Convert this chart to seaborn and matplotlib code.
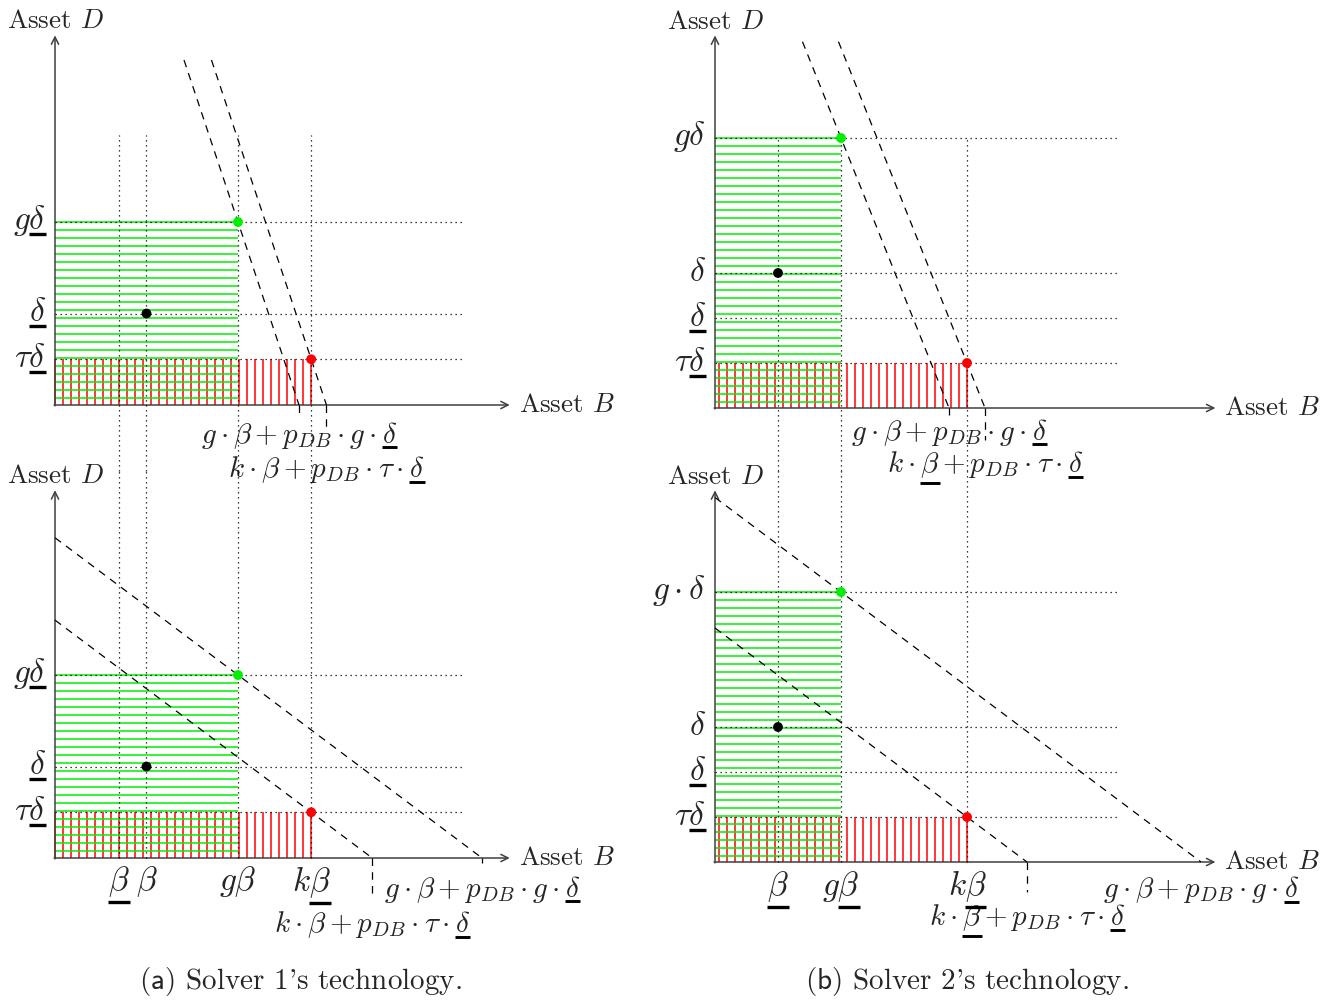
import numpy as np
import matplotlib
matplotlib.use("Agg")
import matplotlib.pyplot as plt
import seaborn as sns
from matplotlib.lines import Line2D

sns.set_theme(style="white")
plt.rcParams["mathtext.fontset"] = "cm"

W, H = 1335, 1001
GREEN = "#00f000"
RED = "#ff0000"

# label parts: (tex, underlined)
D_ = (r"\delta", True)
B_ = (r"\beta", True)

# ---- Solver 1 (a) ----
A_X = [0.7, 1.0, 2.0, 2.8]                      # beta_, beta, g beta, k beta_
A_XLABELS = [[B_], [(r"\beta", False)], [("g", False), (r"\beta", False)],
             [("k", False), B_]]
A_Y = [2.0, 1.0, 0.5]                           # g delta_, delta_, tau delta_
A_YLABELS = [[("g", False), D_], [D_], [(r"\tau", False), D_]]
A_GREEN_PT = [2.0, 2.0]
A_RED_PT = [2.8, 0.5]
A_BLACK_PT = [1.0, 1.0]
A_P = [1 / 3, 4 / 3]                            # p_DB top, bottom

# ---- Solver 2 (b) ----
B_X = [0.7, 1.4, 2.8]
B_XLABELS = [[B_], [("g", False), B_], [("k", False), B_]]
B_Y = [3.0, 1.5, 1.0, 0.5]
B_YLABELS_TOP = [[(r"g\delta", False)], [(r"\delta", False)], [D_], [(r"\tau", False), D_]]
B_YLABELS_BOT = [[(r"g\cdot\delta", False)], [(r"\delta", False)], [D_],
                 [(r"\tau", False), D_]]
B_GREEN_PT = [1.4, 3.0]
B_RED_PT = [2.8, 0.5]
B_BLACK_PT = [0.7, 1.5]
B_P = [0.4, 4 / 3]

LAB1 = [(r"g\cdot\beta+p_{DB}\cdot g\cdot", False), D_]
LAB2_A = [(r"k\cdot\beta+p_{DB}\cdot\tau\cdot", False), D_]
LAB2_B = [(r"k\cdot", False), B_, (r"+p_{DB}\cdot\tau\cdot", False), D_]

DROP = {r"\delta": 0.15, r"\beta": 0.36}

fig = plt.figure(figsize=(W / 100, H / 100), dpi=100)

XLIM = (-0.7, 6.4)
YLIM = (-0.9, 4.5)
ULS = []


def make_ax(origin, unit):
    ox, oy = origin
    left = (ox + XLIM[0] * unit) / W
    right = (ox + XLIM[1] * unit) / W
    top_px = oy - YLIM[1] * unit
    bot_px = oy - YLIM[0] * unit
    ax = fig.add_axes([left, 1 - bot_px / H, right - left, (bot_px - top_px) / H])
    ax.set_xlim(XLIM)
    ax.set_ylim(YLIM)
    ax.axis("off")
    ax.set_facecolor("none")
    return ax


def utext(ax, x, y, parts, fontsize, ha="center", va="center"):
    s = "$" + "".join(t for t, _ in parts) + "$"
    txt = ax.text(x, y, s, fontsize=fontsize, ha=ha, va=va)
    ULS.append((txt, parts, fontsize))
    return txt


def draw_underlines():
    r = fig.canvas.get_renderer()
    for txt, parts, fs in ULS:
        prop = txt.get_fontproperties()

        def width(s):
            return r.get_text_width_height_descent(s, prop, ismath=True)[0]

        bb = txt.get_window_extent(r)
        desc = max(r.get_text_width_height_descent(txt.get_text(), prop, ismath=True)[2],
                   r.get_text_width_height_descent("lp", prop, ismath=False)[2])
        base = bb.y0 + desc
        em = fs * fig.dpi / 72
        for i, (t, u) in enumerate(parts):
            if not u:
                continue
            x1 = bb.x0 + width("$" + "".join(p[0] for p in parts[:i + 1]) + "$")
            x0 = x1 - width("$" + t + "$")
            yy = base - DROP[t] * em
            fig.add_artist(Line2D([x0 / W, x1 / W], [yy / H, yy / H],
                                  transform=fig.transFigure, lw=0.1 * fs,
                                  color="black", solid_capstyle="butt"))


def panel(ax, unit, xs, ys, ylabels, green, red, black, p, top, xend, yend,
          hgrid, vlo, vhi, ticks, labs, labels_txt, xlabels=None, xlab_y=-0.29,
          dtop=None):
    step = 8.0 / unit
    # hatches
    for x in np.arange(red[0], 0.0, -step):
        ax.plot([x, x], [0, red[1]], color=RED, lw=1.1, clip_on=False, zorder=2,
                solid_capstyle="butt")
    for y in np.arange(green[1], 0.0, -step):
        ax.plot([0, green[0]], [y, y], color=GREEN, lw=1.1, clip_on=False, zorder=3,
                solid_capstyle="butt")
    # dotted grid
    for y in ys:
        ax.plot([0, hgrid], [y, y], color="black", lw=0.9, ls=(0, (1, 3)),
                clip_on=False, zorder=4)
    for x in xs:
        ax.plot([x, x], [vlo, vhi], color="black", lw=0.9, ls=(0, (1, 3)),
                clip_on=False, zorder=4)
    # dashed budget lines
    for (px_, py_), tick, lab, txt in zip([green, red], ticks, labs, labels_txt):
        icpt = px_ + p * py_
        if top:
            xs_line = [icpt - p * dtop, icpt]
            ys_line = [dtop, 0]
        else:
            xs_line = [0, icpt]
            ys_line = [icpt / p, 0]
        ax.plot(xs_line, ys_line, color="black", lw=0.9, ls=(0, (6, 5)),
                clip_on=False, zorder=5)
        if tick > 0:
            ax.plot([icpt, icpt], [0, -tick], color="black", lw=0.9,
                    ls=(0, (6, 5)), clip_on=False, zorder=5)
        utext(ax, icpt, lab, txt, 21)
    # axes arrows
    ax.annotate("", xy=(xend, 0), xytext=(-0.01, 0),
                arrowprops=dict(arrowstyle="->", lw=1.1, color="0.25",
                                shrinkA=0, shrinkB=0, mutation_scale=13))
    ax.annotate("", xy=(0, yend), xytext=(0, -0.01),
                arrowprops=dict(arrowstyle="->", lw=1.1, color="0.25",
                                shrinkA=0, shrinkB=0, mutation_scale=13))
    ax.text(xend + 0.1, 0, r"Asset $B$", ha="left", va="center",
            fontsize=19.5, family="cmr10")
    ax.text(0, yend + 0.15, r"Asset $D$", ha="center", va="center",
            fontsize=19.5, family="cmr10")
    for y, t in zip(ys, ylabels):
        utext(ax, -0.1, y + 0.02, t, 24, ha="right")
    if xlabels is not None:
        for x, t in zip(xs, xlabels):
            utext(ax, x, xlab_y, t, 24)
    # points
    sns.scatterplot(x=[green[0], red[0], black[0]], y=[green[1], red[1], black[1]],
                    hue=["g", "r", "k"], palette={"g": GREEN, "r": RED, "k": "black"},
                    s=50, edgecolor="none", legend=False, ax=ax, zorder=6,
                    clip_on=False)


UA, UB = 91.5, 90.0

ax = make_ax((55, 405), UA)
panel(ax, UA, A_X, A_Y, A_YLABELS, A_GREEN_PT, A_RED_PT, A_BLACK_PT, A_P[0], True,
      4.97, 4.04, 4.45, -0.72, 2.95, [0.09, 0.25], [-0.33, -0.71], [LAB1, LAB2_A],
      dtop=3.77)
ax = make_ax((55, 858), UA)
panel(ax, UA, A_X, A_Y, A_YLABELS, A_GREEN_PT, A_RED_PT, A_BLACK_PT, A_P[1], False,
      4.97, 4.02, 4.45, 0.0, 4.25, [0.06, 0.45], [-0.34, -0.73], [LAB1, LAB2_A],
      xlabels=A_XLABELS, xlab_y=-0.26)
ax = make_ax((715, 408), UB)
panel(ax, UB, B_X, B_Y, B_YLABELS_TOP, B_GREEN_PT, B_RED_PT, B_BLACK_PT, B_P[0], True,
      5.56, 4.14, 4.5, -0.7, 3.0, [0.08, 0.35], [-0.27, -0.63], [LAB1, LAB2_B],
      dtop=4.07)
ax = make_ax((715, 862), UB)
panel(ax, UB, B_X, B_Y, B_YLABELS_BOT, B_GREEN_PT, B_RED_PT, B_BLACK_PT, B_P[1], False,
      5.56, 4.13, 4.5, 0.0, 4.34, [0.0, 0.33], [-0.31, -0.62], [LAB1, LAB2_B],
      xlabels=B_XLABELS, xlab_y=-0.27)

fig.text(301 / W, 1 - 982 / H, r"$\mathsf{(a)}$ Solver 1's technology.",
         ha="center", va="center", fontsize=21, family="cmr10")
fig.text(967 / W, 1 - 982 / H, r"$\mathsf{(b)}$ Solver 2's technology.",
         ha="center", va="center", fontsize=21, family="cmr10")

draw_underlines()
fig.savefig("out.png", dpi=100, facecolor="white")
